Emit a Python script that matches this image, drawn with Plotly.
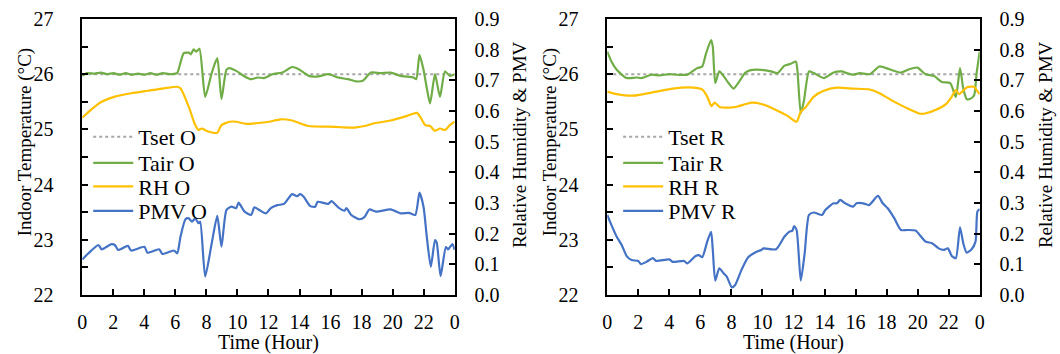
import plotly.graph_objects as go

# ---------------- data (hours, values) ----------------
x_tick_vals = [0, 2, 4, 6, 8, 10, 12, 14, 16, 18, 20, 22, 24]
x_tick_text = ["0", "2", "4", "6", "8", "10", "12", "14", "16", "18", "20", "22", "0"]
t_tick_vals = [22, 22.5, 23, 23.5, 24, 24.5, 25, 25.5, 26, 26.5, 27]
t_tick_text = ["22", "", "23", "", "24", "", "25", "", "26", "", "27"]

tset_hours = [0, 24]
tset_o = [26, 26]
tset_r = [26, 26]

tair_o_hours = [0.0, 0.3, 0.8, 1.2, 1.6, 2.0, 2.4, 2.8, 3.2, 3.6, 4.0, 4.4, 4.8, 5.2, 5.6, 6.0, 6.12,
                6.54, 6.86, 7.0, 7.17, 7.34, 7.55, 7.92, 8.34, 8.70, 8.97, 9.29, 9.50, 9.92, 10.46,
                10.88, 11.30, 11.72, 12.25, 12.89, 13.52, 13.95, 14.58, 15.22, 15.85, 16.49, 17.12,
                17.65, 18.07, 18.60, 19.24, 19.87, 20.51, 21.35, 21.52, 21.73, 21.99, 22.20, 22.41,
                22.73, 23.05, 23.37, 23.68, 24.0]
tair_o = [25.97, 26.02, 26.01, 26.03, 26.0, 26.02, 25.99, 26.02, 25.99, 26.01, 25.99, 26.02, 25.99,
          26.02, 26.0, 26.01, 26.02, 26.38, 26.39, 26.36, 26.45, 26.41, 26.46, 25.59, 26.02, 26.29,
          25.55, 26.08, 26.11, 26.06, 25.96, 25.91, 25.94, 25.93, 26.0, 26.03, 26.13, 26.09, 25.97,
          25.96, 26.0, 25.94, 25.91, 25.87, 25.88, 26.03, 26.02, 26.03, 25.97, 25.94, 25.91, 26.35,
          26.08, 25.75, 25.47, 26.0, 25.59, 26.05, 25.97, 26.0]

rh_o_hours = [0.0, 0.61, 1.25, 2.10, 3.15, 4.21, 5.27, 6.12, 6.33, 6.86, 7.28, 7.49, 7.70, 8.02, 8.70,
              8.97, 9.50, 9.92, 10.56, 11.20, 12.04, 12.78, 13.52, 14.58, 15.85, 16.70, 17.54, 18.18,
              18.81, 19.87, 20.93, 21.56, 21.78, 22.10, 22.41, 22.73, 23.05, 23.37, 23.68, 24.0]
rh_o = [0.578, 0.606, 0.630, 0.647, 0.658, 0.666, 0.674, 0.679, 0.674, 0.614, 0.554, 0.538, 0.543,
        0.535, 0.529, 0.554, 0.565, 0.565, 0.558, 0.560, 0.565, 0.573, 0.569, 0.551, 0.549, 0.547,
        0.546, 0.551, 0.560, 0.569, 0.584, 0.594, 0.581, 0.554, 0.551, 0.535, 0.543, 0.538, 0.554,
        0.565]

pmv_o_hours = [0.0, 0.40, 1.04, 1.25, 1.88, 2.10, 2.31, 2.94, 3.15, 4.0, 4.21, 4.95, 5.16, 5.90, 6.12,
               6.33, 6.65, 6.86, 7.07, 7.28, 7.49, 7.60, 7.92, 8.34, 8.70, 8.97, 9.29, 9.61, 9.92,
               10.07, 10.46, 10.88, 11.09, 11.41, 11.83, 12.15, 12.57, 13.0, 13.52, 13.84, 14.05,
               14.27, 14.69, 15.01, 15.17, 15.85, 16.06, 16.49, 16.91, 17.02, 17.33, 17.86, 18.18,
               18.50, 18.92, 19.87, 20.51, 21.04, 21.46, 21.73, 21.99, 22.20, 22.46, 22.73, 22.84,
               23.09, 23.43, 23.58, 23.85, 24.0]
pmv_o = [0.116, 0.136, 0.163, 0.149, 0.166, 0.163, 0.147, 0.160, 0.145, 0.157, 0.138, 0.149, 0.134,
         0.145, 0.136, 0.190, 0.247, 0.250, 0.239, 0.250, 0.234, 0.239, 0.060, 0.168, 0.258, 0.158,
         0.277, 0.288, 0.283, 0.301, 0.272, 0.261, 0.286, 0.277, 0.266, 0.283, 0.293, 0.297, 0.329,
         0.322, 0.329, 0.320, 0.290, 0.288, 0.304, 0.297, 0.306, 0.286, 0.275, 0.283, 0.261, 0.247,
         0.254, 0.279, 0.272, 0.279, 0.266, 0.268, 0.261, 0.334, 0.288, 0.190, 0.092, 0.179, 0.171,
         0.062, 0.156, 0.149, 0.166, 0.147]

tair_r_hours = [0.0, 0.27, 0.61, 1.25, 1.88, 2.2, 2.84, 3.37, 4.0, 4.53, 5.16, 5.48, 5.8, 6.12, 6.37,
                6.69, 6.8, 6.96, 7.22, 7.49, 7.81, 8.13, 8.44, 8.87, 9.18, 9.92, 10.56, 10.98, 11.40,
                11.83, 12.15, 12.25, 12.47, 12.68, 13.0, 13.31, 13.95, 14.58, 15.12, 15.43, 15.85,
                16.28, 16.91, 17.54, 18.18, 18.92, 19.45, 19.98, 20.51, 21.04, 21.56, 22.1, 22.46,
                22.73, 22.94, 23.16, 23.37, 23.64, 23.8, 24.0]
tair_r = [26.41, 26.23, 26.08, 25.93, 25.94, 25.93, 25.99, 25.98, 26.0, 25.99, 25.99, 26.05, 26.11,
          26.14, 26.38, 26.62, 26.5, 25.84, 26.05, 25.97, 25.84, 25.74, 25.84, 26.02, 26.07, 26.08,
          26.05, 26.02, 26.15, 26.19, 26.23, 26.08, 25.29, 25.53, 26.05, 26.02, 25.93, 26.03, 26.05,
          26.02, 25.99, 26.02, 26.0, 26.14, 26.09, 26.03, 26.09, 26.12, 26.0, 25.97, 25.86, 25.84,
          25.59, 26.11, 25.74, 25.55, 25.55, 25.62, 26.02, 26.41]

rh_r_hours = [0.0, 0.61, 1.67, 3.15, 4.21, 5.27, 6.12, 6.44, 6.71, 6.92, 7.28, 7.81, 8.34, 9.29, 9.92,
              10.77, 11.62, 12.2, 12.47, 12.78, 13.31, 13.95, 14.8, 15.85, 16.91, 17.54, 18.39, 19.24,
              20.08, 20.4, 21.14, 21.88, 22.2, 22.46, 22.67, 23.16, 23.64, 23.8, 24.0]
rh_r = [0.663, 0.655, 0.650, 0.663, 0.673, 0.677, 0.670, 0.647, 0.616, 0.627, 0.612, 0.611, 0.614,
        0.627, 0.623, 0.606, 0.584, 0.565, 0.598, 0.612, 0.647, 0.666, 0.676, 0.673, 0.670, 0.658,
        0.633, 0.611, 0.592, 0.591, 0.603, 0.625, 0.647, 0.668, 0.655, 0.677, 0.679, 0.668, 0.655]

pmv_r_hours = [0.0, 0.27, 0.61, 0.93, 1.25, 1.57, 2.0, 2.16, 2.52, 2.94, 3.15, 4.0, 4.21, 4.95, 5.16,
               5.69, 5.9, 6.12, 6.44, 6.69, 6.8, 6.96, 7.22, 7.49, 7.7, 8.02, 8.23, 8.65, 9.08, 9.5,
               9.92, 10.07, 10.88, 11.41, 11.72, 11.93, 12.04, 12.2, 12.47, 12.72, 13.0, 13.31, 13.84,
               14.05, 14.58, 14.8, 15.01, 15.33, 15.85, 16.06, 16.49, 16.87, 17.44, 17.75, 18.07,
               18.5, 18.92, 19.35, 19.87, 20.08, 20.51, 20.93, 21.35, 21.67, 21.95, 22.2, 22.46,
               22.73, 22.94, 23.16, 23.48, 23.73, 23.85, 24.0]
pmv_r = [0.261, 0.228, 0.190, 0.163, 0.127, 0.114, 0.111, 0.101, 0.108, 0.120, 0.111, 0.116, 0.108,
         0.111, 0.103, 0.127, 0.130, 0.123, 0.174, 0.206, 0.147, 0.047, 0.087, 0.071, 0.060, 0.025,
         0.032, 0.082, 0.123, 0.138, 0.147, 0.152, 0.149, 0.190, 0.206, 0.210, 0.225, 0.212, 0.047,
         0.136, 0.261, 0.269, 0.261, 0.277, 0.299, 0.299, 0.310, 0.299, 0.288, 0.299, 0.299, 0.293,
         0.323, 0.299, 0.283, 0.250, 0.212, 0.212, 0.210, 0.199, 0.174, 0.169, 0.152, 0.147, 0.152,
         0.127, 0.120, 0.221, 0.169, 0.138, 0.149, 0.174, 0.272, 0.280]

# ---------------- styling ----------------
FONT = "Liberation Serif, Times New Roman, serif"
W, H = 1060, 354
ML, MR, MT, MB = 0, 0, 19, 59
PW, PH = W - ML - MR, H - MT - MB

GREY = "#A6A6A6"
GREEN = "#70AD47"
YELLOW = "#FFC000"
BLUE = "#4472C4"
LW = 2.2


def px_x(px):
    return (px - ML) / PW


def px_y(py):
    return (H - MB - py) / PH


fig = go.Figure()

panels = [
    dict(xa="x", ya="y", ya2="y2", suffix="O",
         data=[(tset_hours, tset_o, False), (tair_o_hours, tair_o, False),
               (rh_o_hours, rh_o, True), (pmv_o_hours, pmv_o, True)],
         legends=["legend", "legend2", "legend3", "legend4"], leg_x=89),
    dict(xa="x2", ya="y3", ya2="y4", suffix="R",
         data=[(tset_hours, tset_r, False), (tair_r_hours, tair_r, False),
               (rh_r_hours, rh_r, True), (pmv_r_hours, pmv_r, True)],
         legends=["legend5", "legend6", "legend7", "legend8"], leg_x=624),
]
names = ["Tset", "Tair", "RH", "PMV"]
colors = [GREY, GREEN, YELLOW, BLUE]
leg_y = [137, 163, 186.5, 211]

legend_layout = {}
for p in panels:
    for i, (hx, hy, secondary) in enumerate(p["data"]):
        line = dict(color=colors[i], width=LW if i else 2, dash="dot" if i == 0 else "solid")
        if i > 0:
            line.update(shape="spline", smoothing=0.6)
        fig.add_trace(go.Scatter(
            x=hx, y=hy, mode="lines", name=f"{names[i]} {p['suffix']}", line=line,
            xaxis=p["xa"], yaxis=p["ya2"] if secondary else p["ya"],
            legend=p["legends"][i], showlegend=True,
        ))
        legend_layout[p["legends"][i]] = dict(
            x=px_x(p["leg_x"] - 5), y=px_y(leg_y[i]), xanchor="left", yanchor="middle",
            bgcolor="rgba(0,0,0,0)", borderwidth=0, itemwidth=40,
            font=dict(family=FONT, size=22, color="black"), tracegroupgap=0,
        )

axis_common = dict(showline=True, linecolor="black", linewidth=1.5, ticks="inside",
                   tickwidth=1.5, tickcolor="black", ticklen=6, showgrid=False, zeroline=False,
                   tickfont=dict(family=FONT, size=20, color="black"))

xdom1 = [px_x(78), px_x(454)]
xdom2 = [px_x(608), px_x(984)]

fig.update_layout(
    width=W, height=H, margin=dict(l=ML, r=MR, t=MT, b=MB),
    paper_bgcolor="white", plot_bgcolor="white",
    font=dict(family=FONT, color="black"),
    xaxis=dict(domain=xdom1, range=[0, 24], tickvals=x_tick_vals, ticktext=x_tick_text,
               mirror=True, anchor="y", ticklabelstandoff=8, **axis_common),
    xaxis2=dict(domain=xdom2, range=[0, 24], tickvals=x_tick_vals, ticktext=x_tick_text,
                mirror=True, anchor="y3", ticklabelstandoff=8, **axis_common),
    yaxis=dict(domain=[0, 1], range=[22, 27], tickvals=t_tick_vals, ticktext=t_tick_text,
               anchor="x", ticklabelstandoff=23, **axis_common),
    yaxis2=dict(domain=[0, 1], range=[0, 0.9], dtick=0.1, tick0=0, tickformat=".1f",
                overlaying="y", side="right", anchor="x", ticklabelstandoff=14, **axis_common),
    yaxis3=dict(domain=[0, 1], range=[22, 27], tickvals=t_tick_vals, ticktext=t_tick_text,
                anchor="x2", ticklabelstandoff=23, **axis_common),
    yaxis4=dict(domain=[0, 1], range=[0, 0.9], dtick=0.1, tick0=0, tickformat=".1f",
                overlaying="y3", side="right", anchor="x2", ticklabelstandoff=14, **axis_common),
    **legend_layout,
)

ann_font = dict(family=FONT, size=19, color="black")
annotations = [
    dict(text="Indoor Temperature (°C)", x=px_x(20), y=px_y(142.5), textangle=-90),
    dict(text="Relative Humidity & PMV", x=px_x(519), y=px_y(145), textangle=-90),
    dict(text="Time (Hour)", x=px_x(266), y=px_y(342), font=dict(family=FONT, size=20, color="black")),
    dict(text="Indoor Temperature (°C)", x=px_x(550), y=px_y(142.5), textangle=-90),
    dict(text="Relative Humidity & PMV", x=px_x(1050), y=px_y(145), textangle=-90),
    dict(text="Time (Hour)", x=px_x(796), y=px_y(342), font=dict(family=FONT, size=20, color="black")),
]
for a in annotations:
    a.setdefault("font", ann_font)
    a.update(xref="paper", yref="paper", showarrow=False, xanchor="center", yanchor="middle")
fig.update_layout(annotations=annotations)

fig.write_html("out.html")
